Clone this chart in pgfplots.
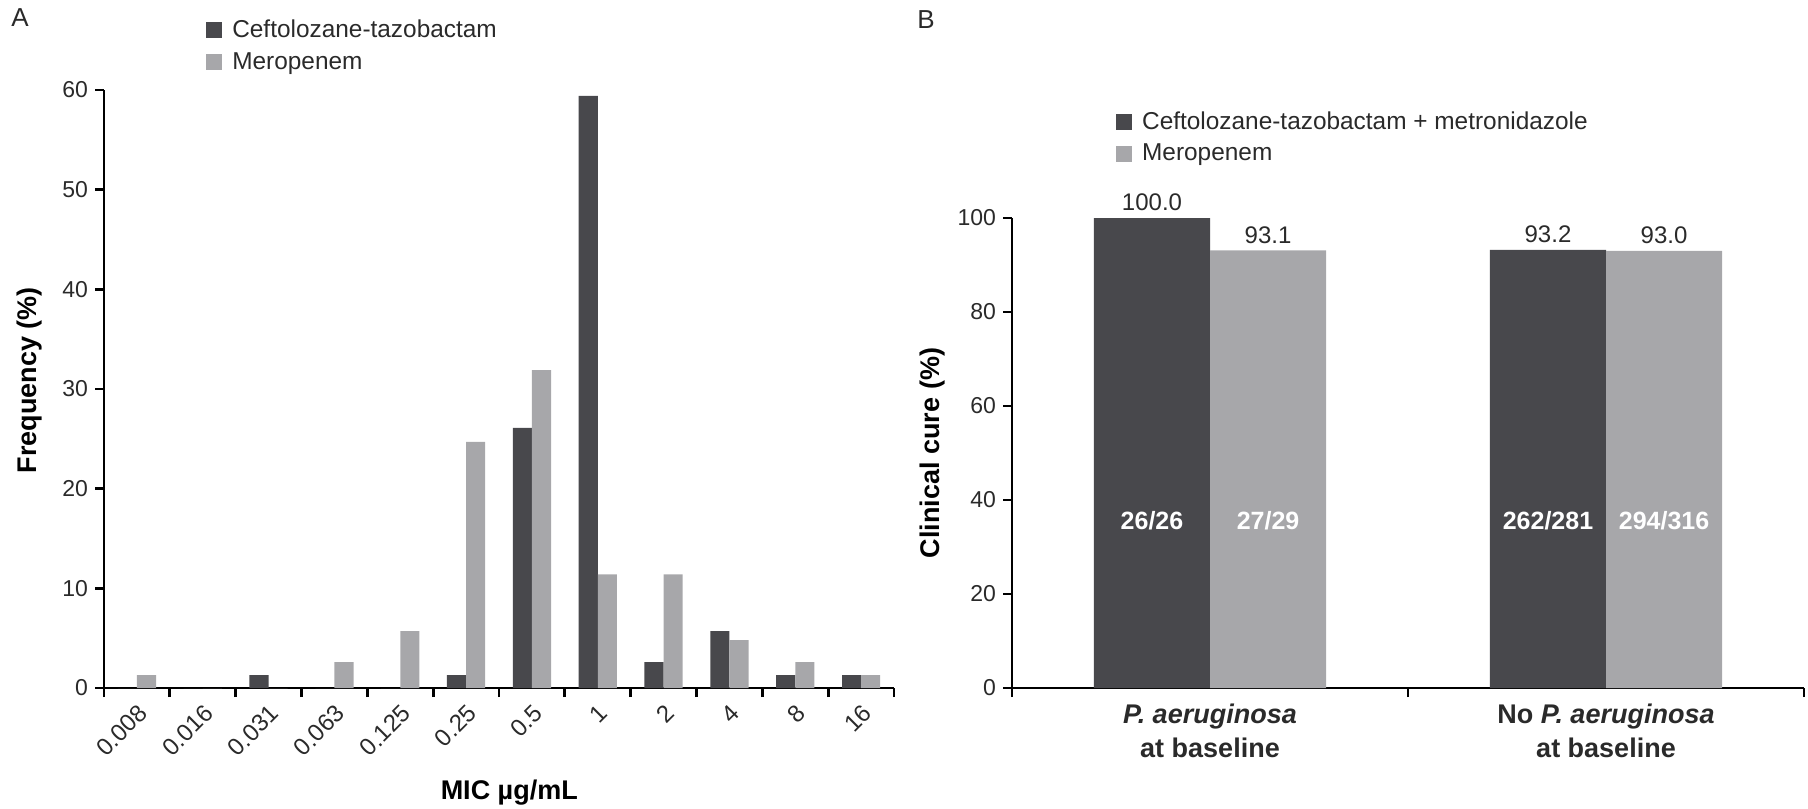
\documentclass[border=0pt]{standalone}
\usepackage{fontspec}
\setmainfont{Liberation Sans}
\usepackage{pgfplots}
\pgfplotsset{compat=1.18}
\definecolor{dk}{HTML}{48484C}
\definecolor{lt}{HTML}{A7A7AA}
\definecolor{txt}{HTML}{2A2A2A}

\pgfplotsset{
 common/.style={
  scale only axis, anchor=south west,
  axis x line*=bottom, axis y line*=left,
  axis line style={-, line width=1.4pt, black},
  tick style={line width=1.4pt, black},
  tick align=outside, major tick length=4.5pt,
  /pgf/number format/assume math mode=true,
  yticklabel style={font=\fontsize{11.5}{13}\selectfont, text=txt},
  ymin=0, clip=false,
  legend cell align=left,
  legend image code/.code={\fill[##1] (0pt,-4pt) rectangle (8pt,4pt); \path (11pt,0pt);},
  legend style={draw=none, fill=none, inner sep=0pt, anchor=north west,
    font=\fontsize{12.2}{14}\selectfont, text=txt, row sep=2pt},
  xlabel style={anchor=center, font=\bfseries\fontsize{13.5}{15}\selectfont, text=black},
  ylabel style={anchor=center, font=\bfseries\fontsize{13.5}{15}\selectfont, text=black},
 }
}

\begin{document}
\begin{tikzpicture}
\path[use as bounding box] (0pt,0pt) rectangle (904pt,-404pt);
\node[font=\fontsize{13}{15}\selectfont, text=txt] at (10pt,-9pt) {A};
\node[font=\fontsize{13}{15}\selectfont, text=txt] at (463pt,-10pt) {B};

% Panel A
\begin{axis}[common, at={(52pt,-344pt)}, width=395pt, height=299pt,
 xmin=-0.5, xmax=11.5, ymax=60, ytick={0,10,20,30,40,50,60},
 xtick={-0.5,0.5,1.5,2.5,3.5,4.5,5.5,6.5,7.5,8.5,9.5,10.5,11.5},
 xticklabels={0.008,0.016,0.031,0.063,0.125,0.25,0.5,1,2,4,8,16},
 x tick label as interval,
 xticklabel style={rotate=45, anchor=north east, font=\fontsize{12}{13}\selectfont, text=txt, inner sep=2pt},
 xlabel={MIC µg/mL}, ylabel={Frequency (\%)},
 xlabel style={at={(axis description cs:0.513,-0.1756)}},
 ylabel style={at={(axis description cs:-0.0937,0.515)}},
 legend style={at={(axis description cs:0.129,1.125)}},
]
\addplot[ybar, bar width=0.29, bar shift=0pt, fill=dk, draw=none] table[x expr=\thisrow{x}-0.145] {
x y
0 0
1 0
2 1.3
3 0
4 0
5 1.3
6 26.1
7 59.4
8 2.6
9 5.7
10 1.3
11 1.3
};
\addplot[ybar, bar width=0.29, bar shift=0pt, fill=lt, draw=none] table[x expr=\thisrow{x}+0.145] {
x y
0 1.3
1 0
2 0
3 2.6
4 5.7
5 24.7
6 31.9
7 11.4
8 11.4
9 4.8
10 2.6
11 1.3
};
\legend{Ceftolozane-tazobactam, Meropenem}
\end{axis}

% Panel B
\begin{axis}[common, at={(506pt,-344pt)}, width=396pt, height=235pt,
 xmin=-0.5, xmax=1.5, ymax=100, ytick={0,20,40,60,80,100},
 xtick={-0.5,0.5,1.5},
 xticklabels={{\textit{P. aeruginosa}\\at baseline},{No \textit{P. aeruginosa}\\at baseline}},
 x tick label as interval,
 xticklabel style={align=center, font=\bfseries\fontsize{13.5}{17}\selectfont, text=txt},
 ylabel={Clinical cure (\%)},
 ylabel style={at={(axis description cs:-0.101,0.5)}},
 legend style={at={(axis description cs:0.131,1.236)}},
]
\addplot[ybar, bar width=0.293, bar shift=0pt, fill=dk, draw=none,
 nodes near coords, point meta=explicit symbolic,
 nodes near coords style={font=\fontsize{12}{14}\selectfont, text=txt}]
 table[x expr=\thisrow{x}-0.1465, meta=lab] {
x y lab
0 100.0 100.0
1 93.2 93.2
};
\addplot[ybar, bar width=0.293, bar shift=0pt, fill=lt, draw=none,
 nodes near coords, point meta=explicit symbolic,
 nodes near coords style={font=\fontsize{12}{14}\selectfont, text=txt}]
 table[x expr=\thisrow{x}+0.1465, meta=lab] {
x y lab
0 93.1 93.1
1 93.0 93.0
};
\legend{Ceftolozane-tazobactam + metronidazole, Meropenem}
\addplot[forget plot, only marks, mark=none, nodes near coords, point meta=explicit symbolic,
 nodes near coords style={anchor=center, text=white, font=\bfseries\fontsize{12.5}{14}\selectfont}]
 table[meta=lab] {
x y lab
-0.1465 35.5 26/26
0.1465 35.5 27/29
0.8535 35.5 262/281
1.1465 35.5 294/316
};
\end{axis}
\end{tikzpicture}
\end{document}
